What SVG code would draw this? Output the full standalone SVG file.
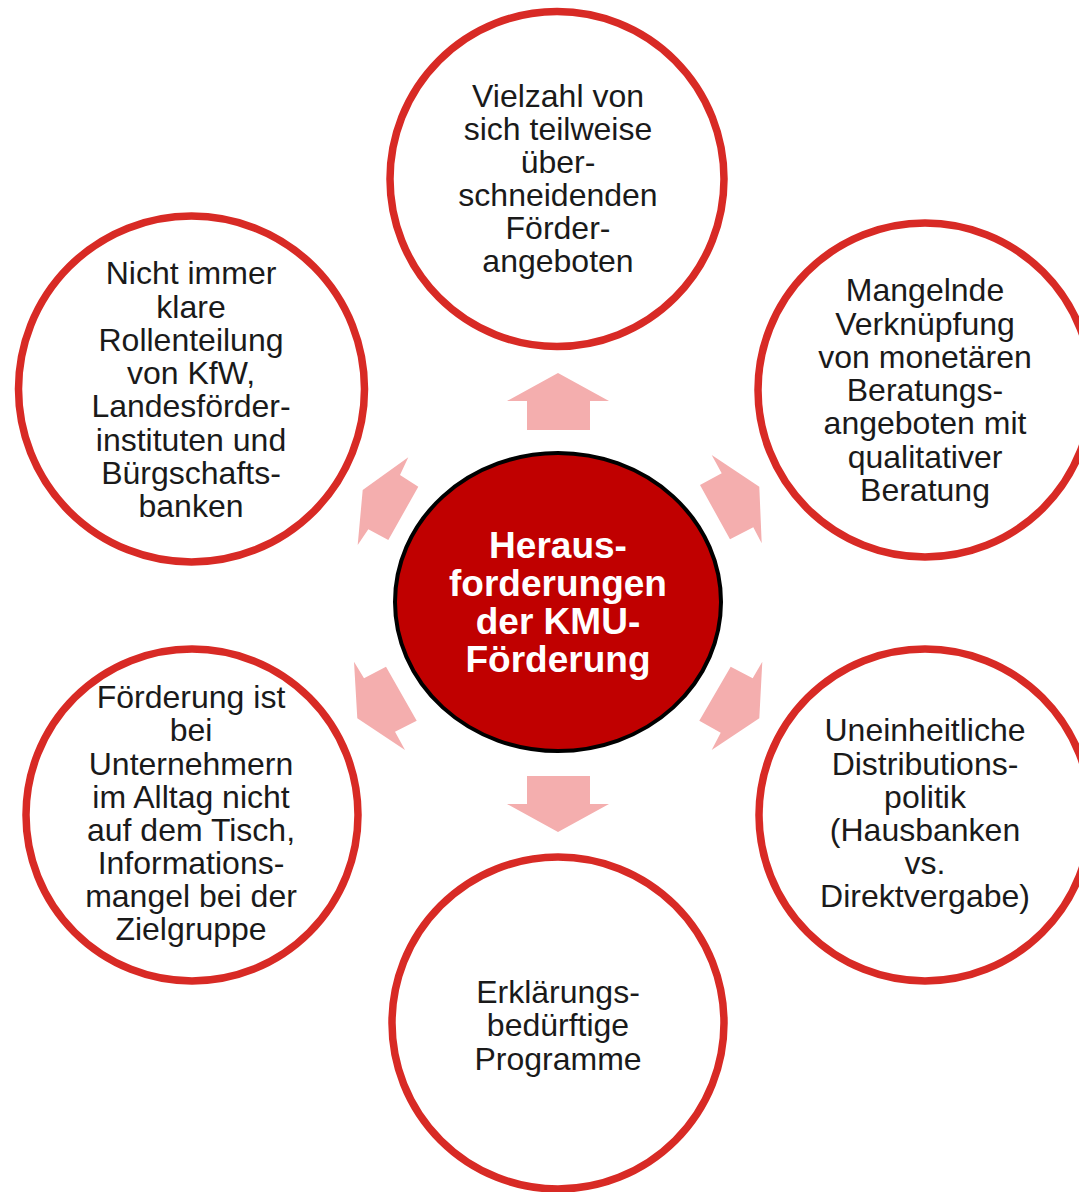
<svg xmlns="http://www.w3.org/2000/svg" width="1079" height="1192" viewBox="0 0 1079 1192">
<style>
.outer{fill:#ffffff;stroke:#d82a25;stroke-width:7.5}
.hub{fill:#c00000;stroke:#000000;stroke-width:4}
.arr{fill:#f4aeae;stroke:none}
.t{font-family:"Liberation Sans",Arial,Helvetica,sans-serif;font-size:32px;fill:#1a1a1a;text-anchor:middle}
.h{font-family:"Liberation Sans",Arial,Helvetica,sans-serif;font-size:37px;font-weight:bold;fill:#ffffff;text-anchor:middle}
</style>
<rect width="1079" height="1192" fill="#ffffff"/>
<g id="connectors">
<polygon class="arr" points="558,373 609,401 590,401 590,430 527,430 527,401 507,401"/>
<polygon class="arr" points="527,776 590,776 590,804 609,804 558,832 507,804 527,804"/>
<polygon class="arr" points="408.3,457.3 400,475 418.3,486.7 388.3,540 368.3,529.3 357.7,545 362.7,490"/>
<polygon class="arr" points="711.7,455 721.7,473.3 700,485 730,539.3 753.3,527.3 761.7,543.3 759.3,486.7"/>
<polygon class="arr" points="354,661.7 364,678.3 386,666.7 416.7,720.7 395,731.7 405,750 357.3,718.3"/>
<polygon class="arr" points="762.3,661.7 752.7,678.3 730.7,666.7 699.3,720.7 720.7,732.7 711.7,750 759.3,718.3"/>
</g>
<g id="node-top">
<ellipse class="outer" cx="557" cy="179" rx="167" ry="167.5"/>
<text class="t"><tspan x="558" y="107">Vielzahl von</tspan><tspan x="558" y="140">sich teilweise</tspan><tspan x="558" y="173">über-</tspan><tspan x="558" y="206">schneidenden</tspan><tspan x="558" y="239">Förder-</tspan><tspan x="558" y="272">angeboten</tspan></text>
</g>
<g id="node-top-left">
<circle class="outer" cx="191.5" cy="389" r="173"/>
<text class="t"><tspan x="191" y="284">Nicht immer</tspan><tspan x="191" y="318">klare</tspan><tspan x="191" y="351">Rollenteilung</tspan><tspan x="191" y="384">von KfW,</tspan><tspan x="191" y="417">Landesförder-</tspan><tspan x="191" y="451">instituten und</tspan><tspan x="191" y="484">Bürgschafts-</tspan><tspan x="191" y="517">banken</tspan></text>
</g>
<g id="node-top-right">
<circle class="outer" cx="925" cy="390" r="167"/>
<text class="t"><tspan x="925" y="301">Mangelnde</tspan><tspan x="925" y="335">Verknüpfung</tspan><tspan x="925" y="368">von monetären</tspan><tspan x="925" y="401">Beratungs-</tspan><tspan x="925" y="434">angeboten mit</tspan><tspan x="925" y="468">qualitativer</tspan><tspan x="925" y="501">Beratung</tspan></text>
</g>
<g id="node-bottom-left">
<circle class="outer" cx="192" cy="815" r="166"/>
<text class="t"><tspan x="191" y="708">Förderung ist</tspan><tspan x="191" y="741">bei</tspan><tspan x="191" y="775">Unternehmern</tspan><tspan x="191" y="808">im Alltag nicht</tspan><tspan x="191" y="841">auf dem Tisch,</tspan><tspan x="191" y="874">Informations-</tspan><tspan x="191" y="907">mangel bei der</tspan><tspan x="191" y="940">Zielgruppe</tspan></text>
</g>
<g id="node-bottom-right">
<circle class="outer" cx="925" cy="815" r="166"/>
<text class="t"><tspan x="925" y="741">Uneinheitliche</tspan><tspan x="925" y="775">Distributions-</tspan><tspan x="925" y="808">politik</tspan><tspan x="925" y="841">(Hausbanken</tspan><tspan x="925" y="874">vs.</tspan><tspan x="925" y="907">Direktvergabe)</tspan></text>
</g>
<g id="node-bottom">
<circle class="outer" cx="558" cy="1023" r="166"/>
<text class="t"><tspan x="558" y="1003">Erklärungs-</tspan><tspan x="558" y="1036">bedürftige</tspan><tspan x="558" y="1070">Programme</tspan></text>
</g>
<g id="node-center">
<ellipse class="hub" cx="558" cy="602" rx="163" ry="149"/>
<text class="h"><tspan x="558" y="558">Heraus-</tspan><tspan x="558" y="596">forderungen</tspan><tspan x="558" y="634">der KMU-</tspan><tspan x="558" y="672">Förderung</tspan></text>
</g>
</svg>
